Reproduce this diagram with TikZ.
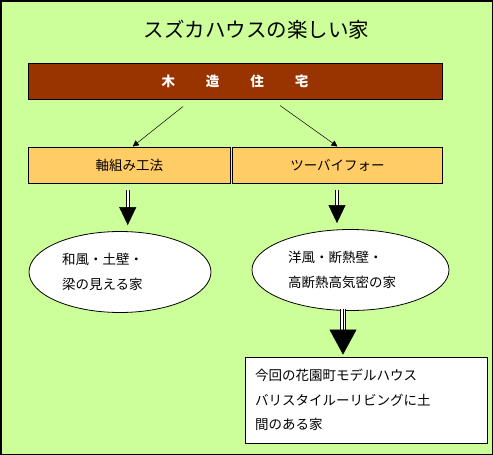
\documentclass[tikz,border=0pt]{standalone}
\usepackage{fontspec}
\setmainfont{Noto Sans CJK JP}
\usetikzlibrary{arrows.meta,calc,shapes.geometric}

\definecolor{bggreen}{HTML}{CCFF99}
\definecolor{woodbrown}{HTML}{993300}
\definecolor{methodorange}{HTML}{FFCC66}

\begin{document}
\begin{tikzpicture}[
    x=1pt, y=-1pt,
    every node/.style={font=\fontsize{13.5}{24.5}\selectfont},
    bar/.style={draw, line width=1pt, fill=woodbrown, text=white,
      minimum width=414pt, minimum height=36pt, inner sep=0pt},
    method/.style={draw, line width=1pt, fill=methodorange,
      minimum height=36pt, inner sep=0pt},
    house/.style={draw, line width=0.8pt, ellipse, fill=white,
      minimum width=#1, minimum height=81pt, align=left, inner sep=0pt},
    arr/.style={-{Triangle[length=6pt,width=6pt]}, line width=0.5pt},
    shaft/.style={double, double distance=2pt, line width=0.8pt},
    downhead/.style={-{Triangle[length=18pt,width=17pt]}, line width=0.5pt},
    bighead/.style={-{Triangle[length=25pt,width=27pt]}, line width=0.5pt},
  ]

  % ── Frame ────────────────────────────────────────────────────────────────
  \useasboundingbox (0,0) rectangle (493,455);
  \draw[line width=1.5pt, fill=bggreen] (0.75,0.75) rectangle (492.25,454.25);

  % ── Nodes ────────────────────────────────────────────────────────────────

  % Title
  \node (title) at (256.5, 30) {\fontsize{20.5}{22}\selectfont スズカハウスの楽しい家};

  % Top bar
  \node[bar] (wood) at (235, 81)
    {\bfseries 木\hspace{31pt}造\hspace{31pt}住\hspace{31pt}宅};

  % Methods
  \node[method, minimum width=202.5pt] (jiku) at (129.25, 165) {軸組み工法};
  \node[method, minimum width=210pt] (tbf) at (337.5, 165) {ツーバイフォー};

  % Houses
  \node[house=182pt, text width=116pt] (wafu) at (120, 272)
    {和風・土壁・\\梁の見える家};
  \node[house=197pt, text width=125pt] (yofu) at (350.5, 270)
    {洋風・断熱壁・\\高断熱高気密の家};

  % Model house
  \node[draw, line width=0.8pt, fill=white, minimum width=242pt,
    minimum height=86pt, text width=222pt, align=left, inner sep=0pt]
    (model) at (366, 400)
    {今回の花園町モデルハウス\\バリスタイルーリビングに土\\間のある家};

  % ── Edges ────────────────────────────────────────────────────────────────

  % wood → jiku, tbf
  \coordinate (wl) at ([xshift=-52pt, yshift=-7pt]wood.south);
  \coordinate (wr) at ([xshift=45pt, yshift=-6pt]wood.south);
  \draw[arr] (wl) -- ([xshift=3.5pt]jiku.north);
  \draw[arr] (wr) -- (tbf.north);

  % jiku → wafu
  \coordinate (jtop)  at ([xshift=-1.5pt, yshift=-6pt]jiku.south);
  \coordinate (jbase) at ($(jtop)+(0,19)$);
  \draw[shaft] (jtop) -- (jbase);
  \draw[downhead, shorten >=6pt] (jbase) -- (jbase |- wafu.north);

  % tbf → yofu
  \coordinate (ttop)  at ([xshift=-0.5pt, yshift=-6pt]tbf.south);
  \coordinate (tbase) at ($(ttop)+(0,19)$);
  \draw[shaft] (ttop) -- (tbase);
  \draw[downhead, shorten >=6pt] (tbase) -- (tbase |- yofu.north);

  % yofu → model
  \coordinate (ytop)  at ([xshift=-7.5pt, yshift=2pt]yofu.south);
  \coordinate (ybase) at ($(ytop)+(0,21)$);
  \draw[shaft, double distance=4.5pt] (ytop) -- (ybase);
  \draw[line width=0.8pt] (ytop) -- (ybase);
  \draw[bighead, shorten >=2pt] (ybase) -- (ybase |- model.north);

\end{tikzpicture}
\end{document}
